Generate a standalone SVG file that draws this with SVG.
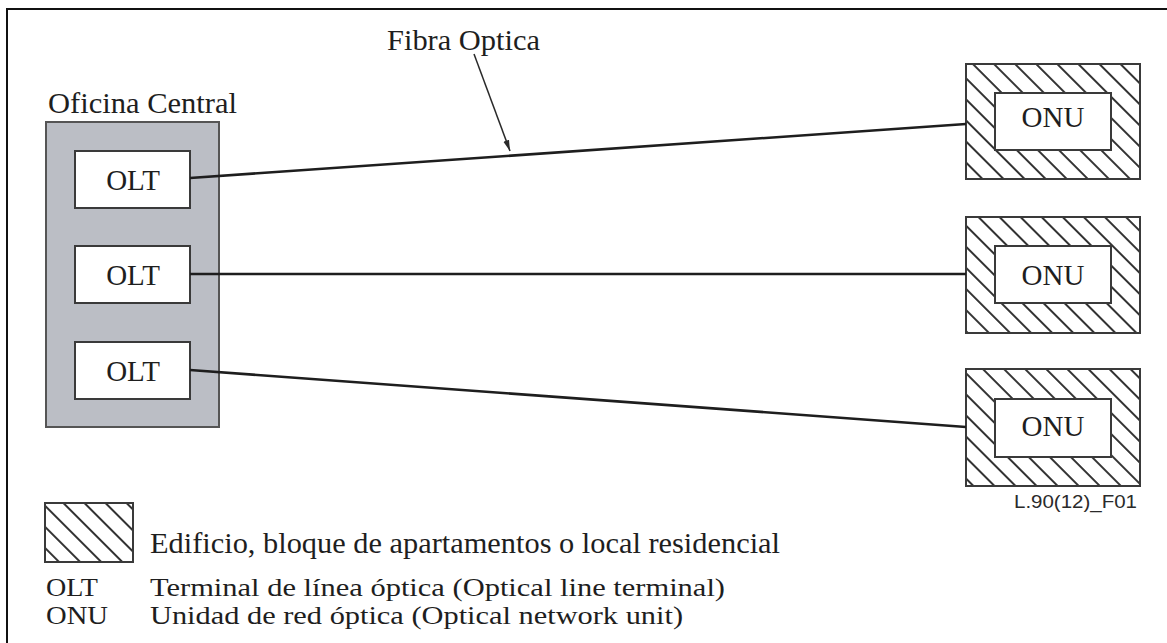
<svg xmlns="http://www.w3.org/2000/svg" width="1167" height="643" viewBox="0 0 1167 643">
  <style>
    .serif { font-family: "Liberation Serif", "Times New Roman", serif; fill: #1e1e1e; }
    .lbl { font-size: 29px; }
    .key { font-size: 25px; }
    .box { fill: #ffffff; stroke: #3a3a3a; stroke-width: 2; }
    .bldg { fill: url(#hatch); stroke: #3a3a3a; stroke-width: 2; }
    .fiber { stroke: #1e1e1e; stroke-width: 2.6; fill: none; }
  </style>
  <defs>
    <pattern id="hatch" patternUnits="userSpaceOnUse" width="14.9" height="14.9" patternTransform="rotate(-45)">
      <rect width="14.9" height="14.9" fill="#ffffff"/>
      <line x1="2" y1="-1" x2="2" y2="16" stroke="#333333" stroke-width="2"/>
    </pattern>
    <marker id="arrow" markerWidth="12" markerHeight="8" refX="11" refY="4" orient="auto" markerUnits="userSpaceOnUse">
      <path d="M0,1 L11,4 L0,7 Z" fill="#2a2a2a"/>
    </marker>
  </defs>

  <rect width="1167" height="643" fill="#ffffff"/>
  <!-- frame -->
  <rect x="7" y="9" width="1180" height="660" fill="none" stroke="#111111" stroke-width="2"/>

  <!-- central office -->
  <g id="oficina-central">
    <rect x="46" y="122" width="173" height="305" fill="#bbbec5" stroke="#555555" stroke-width="2"/>
    <text class="serif lbl" x="48" y="113" textLength="189" lengthAdjust="spacingAndGlyphs">Oficina Central</text>
  </g>
  <g id="olt1">
    <rect class="box" x="75" y="151" width="115" height="57"/>
    <text class="serif lbl" x="133" y="190" text-anchor="middle">OLT</text>
  </g>
  <g id="olt2">
    <rect class="box" x="75" y="246" width="115" height="57"/>
    <text class="serif lbl" x="133" y="285" text-anchor="middle">OLT</text>
  </g>
  <g id="olt3">
    <rect class="box" x="75" y="342" width="115" height="57"/>
    <text class="serif lbl" x="133" y="381" text-anchor="middle">OLT</text>
  </g>

  <!-- buildings with ONUs -->
  <g id="onu1">
    <rect class="bldg" x="966" y="64" width="174" height="115"/>
    <rect class="box" x="995" y="93" width="116" height="57"/>
    <text class="serif lbl" x="1053" y="127" text-anchor="middle">ONU</text>
  </g>
  <g id="onu2">
    <rect class="bldg" x="966" y="217" width="174" height="116"/>
    <rect class="box" x="995" y="246" width="116" height="57"/>
    <text class="serif lbl" x="1053" y="285" text-anchor="middle">ONU</text>
  </g>
  <g id="onu3">
    <rect class="bldg" x="966" y="369" width="174" height="117"/>
    <rect class="box" x="995" y="399" width="116" height="58"/>
    <text class="serif lbl" x="1053" y="436" text-anchor="middle">ONU</text>
  </g>

  <!-- fibre links -->
  <g id="connectors">
    <line class="fiber" x1="190" y1="178" x2="966" y2="124"/>
    <line class="fiber" x1="190" y1="274" x2="966" y2="274"/>
    <line class="fiber" x1="190" y1="370" x2="966" y2="427"/>
    <line x1="474" y1="54" x2="510" y2="151" stroke="#2a2a2a" stroke-width="1.5" marker-end="url(#arrow)"/>
  </g>
  <text class="serif lbl" x="387" y="50" textLength="153" lengthAdjust="spacingAndGlyphs">Fibra Optica</text>

  <text x="1014" y="508" font-family="Liberation Sans, Arial, sans-serif" font-size="19" fill="#2a2a2a" textLength="123" lengthAdjust="spacingAndGlyphs">L.90(12)_F01</text>

  <!-- legend -->
  <g id="legend">
    <rect class="bldg" x="45" y="503" width="88" height="59"/>
    <text class="serif lbl" x="150" y="553" textLength="630" lengthAdjust="spacingAndGlyphs">Edificio, bloque de apartamentos o local residencial</text>
    <text class="serif key" x="46" y="596" textLength="52" lengthAdjust="spacingAndGlyphs">OLT</text>
    <text class="serif key" x="150" y="596" textLength="575" lengthAdjust="spacingAndGlyphs">Terminal de línea óptica (Optical line terminal)</text>
    <text class="serif key" x="46" y="624" textLength="62" lengthAdjust="spacingAndGlyphs">ONU</text>
    <text class="serif key" x="150" y="624" textLength="533" lengthAdjust="spacingAndGlyphs">Unidad de red óptica (Optical network unit)</text>
  </g>
</svg>
